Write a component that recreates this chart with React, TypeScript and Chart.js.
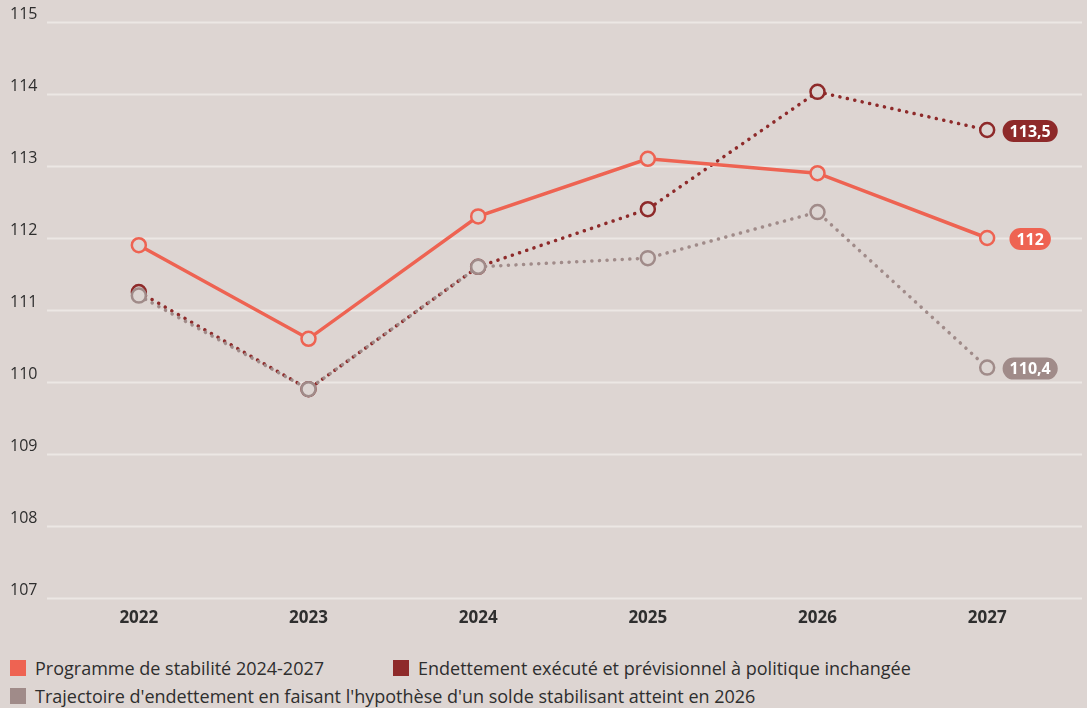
import React, { useEffect, useRef } from "react";
import { Chart, registerables } from "chart.js";

Chart.register(...registerables);

const years = ["2022", "2023", "2024", "2025", "2026", "2027"];
const programme = [111.9, 110.6, 112.3, 113.1, 112.9, 112.0];
const endettement = [111.25, 109.9, 111.6, 112.4, 114.03, 113.5];
const trajectoire = [111.2, 109.9, 111.6, 111.72, 112.36, 110.2];
const endLabels = ["112", "113,5", "110,4"];
const seriesNames = [
  "Programme de stabilité 2024-2027",
  "Endettement exécuté et prévisionnel à politique inchangée",
  "Trajectoire d'endettement en faisant l'hypothèse d'un solde stabilisant atteint en 2026",
];
const yMin = 107;
const yMax = 115;

const BG = "#DDD5D2";
const GRID = "#ECE7E4";
const SALMON = "#EE6352";
const DARKRED = "#8E2A2A";
const MAUVE = "#A08B89";
const TEXT = "#2E2E2E";
const FONT = "'Open Sans', sans-serif";
const colors = [SALMON, DARKRED, MAUVE];

const gridPlugin = {
  id: "customGrid",
  beforeDatasetsDraw(chart: any) {
    const { ctx, scales } = chart;
    const y = scales.y;
    ctx.save();
    ctx.strokeStyle = GRID;
    ctx.lineWidth = 2;
    y.ticks.forEach((t: any) => {
      const py = Math.round(y.getPixelForValue(t.value)) + 0.5;
      ctx.beginPath();
      ctx.moveTo(47, py);
      ctx.lineTo(1082, py);
      ctx.stroke();
    });
    ctx.restore();
  },
};

const endLabelPlugin = {
  id: "endLabels",
  afterDatasetsDraw(chart: any) {
    const { ctx } = chart;
    ctx.save();
    ctx.font = `bold 16px ${FONT}`;
    ctx.textAlign = "center";
    ctx.textBaseline = "middle";
    chart.data.datasets.forEach((ds: any, i: number) => {
      const meta = chart.getDatasetMeta(i);
      const pt = meta.data[meta.data.length - 1];
      const text = endLabels[i];
      const w = ctx.measureText(text).width + 14;
      const h = 22;
      const cx = pt.x + 43;
      const cy = pt.y + 1;
      const x0 = cx - w / 2;
      const y0 = cy - h / 2;
      const r = h / 2;
      ctx.fillStyle = colors[i];
      ctx.beginPath();
      ctx.moveTo(x0 + r, y0);
      ctx.lineTo(x0 + w - r, y0);
      ctx.arc(x0 + w - r, cy, r, -Math.PI / 2, Math.PI / 2);
      ctx.lineTo(x0 + r, y0 + h);
      ctx.arc(x0 + r, cy, r, Math.PI / 2, (3 * Math.PI) / 2);
      ctx.closePath();
      ctx.fill();
      ctx.fillStyle = "#FFFFFF";
      ctx.fillText(text, cx, cy + 1);
    });
    ctx.restore();
  },
};

export default function App() {
  const ref = useRef<HTMLCanvasElement | null>(null);

  useEffect(() => {
    if (!ref.current) return;
    const mk = (label: string, data: number[], color: string, dotted: boolean, order: number) => ({
      label,
      data,
      borderColor: color,
      backgroundColor: color,
      borderWidth: 3.5,
      borderDash: dotted ? [0.1, 7.5] : [],
      borderCapStyle: dotted ? "round" : "butt",
      pointRadius: 7,
      pointHoverRadius: 7,
      pointBorderWidth: 2.5,
      pointBorderColor: color,
      pointBackgroundColor: BG,
      tension: 0,
      fill: false,
      order,
    });
    const chart = new Chart(ref.current, {
      type: "line",
      data: {
        labels: years,
        datasets: [
          mk(seriesNames[0], programme, SALMON, false, 0),
          mk(seriesNames[1], endettement, DARKRED, true, 2),
          mk(seriesNames[2], trajectoire, MAUVE, true, 1),
        ] as any,
      },
      options: {
        animation: false,
        responsive: false,
        layout: { padding: { left: 10, right: 15, top: 22, bottom: 0 } },
        plugins: { legend: { display: false }, tooltip: { enabled: false } },
        scales: {
          x: {
            offset: true,
            grid: { display: false, drawTicks: false },
            border: { display: false },
            ticks: {
              padding: 10,
              color: TEXT,
              font: { family: FONT, size: 17, weight: "bold" },
            },
            afterFit: (s: any) => {
              s.height = 42;
            },
          },
          y: {
            min: yMin,
            max: yMax,
            grid: { display: false, drawTicks: false },
            border: { display: false },
            ticks: {
              stepSize: 1,
              crossAlign: "far",
              labelOffset: -8,
              padding: 0,
              color: TEXT,
              font: { family: FONT, size: 16 },
            },
            afterFit: (s: any) => {
              s.width = 44;
            },
          },
        },
      } as any,
      plugins: [gridPlugin, endLabelPlugin],
    });
    return () => chart.destroy();
  }, []);

  const legendPos = [
    { left: 10, top: 659 },
    { left: 393, top: 659 },
    { left: 10, top: 687 },
  ];

  return (
    <div
      style={{
        position: "absolute",
        left: 0,
        top: 0,
        width: 1087,
        height: 708,
        background: BG,
        fontFamily: FONT,
        overflow: "hidden",
      }}
    >
      <canvas ref={ref} width={1087} height={640} style={{ display: "block" }} />
      {seriesNames.map((name, i) => (
        <div
          key={name}
          style={{
            position: "absolute",
            left: legendPos[i].left,
            top: legendPos[i].top,
            height: 17,
            display: "flex",
            alignItems: "center",
            whiteSpace: "nowrap",
            color: TEXT,
            fontSize: 18,
          }}
        >
          <span
            style={{
              display: "inline-block",
              flex: "none",
              width: 16,
              height: 16,
              background: colors[i],
              marginRight: 9,
            }}
          />
          <span>{name}</span>
        </div>
      ))}
    </div>
  );
}
